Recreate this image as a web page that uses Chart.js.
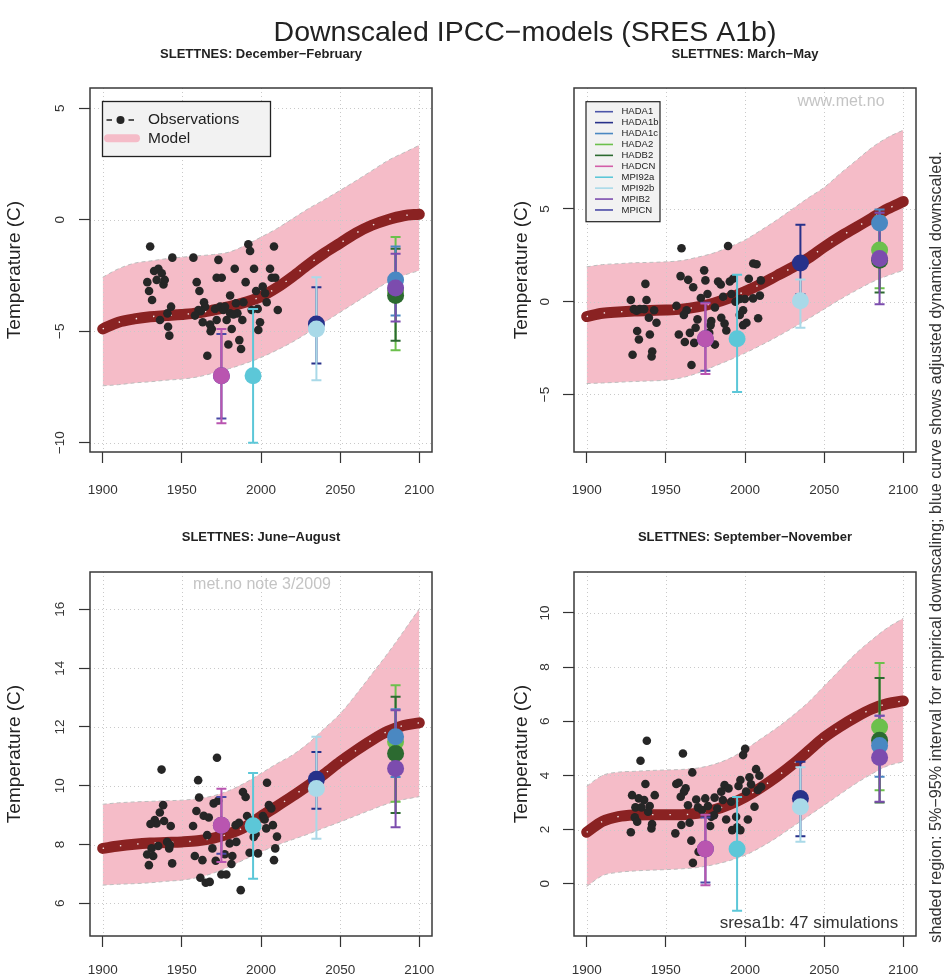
<!DOCTYPE html>
<html><head><meta charset="utf-8">
<script src="https://cdn.jsdelivr.net/npm/chart.js@4.4.1/dist/chart.umd.min.js"></script>
<style>
html,body{margin:0;padding:0;background:#fff;}
#wrap{position:relative;width:945px;height:980px;overflow:hidden;background:#fff;}
canvas{position:absolute;left:0;top:0;}
</style></head><body>
<div id="wrap">
<canvas id="c1" width="945" height="980"></canvas>
<canvas id="c2" width="945" height="980"></canvas>
<canvas id="c3" width="945" height="980"></canvas>
<canvas id="c4" width="945" height="980"></canvas>
</div>
<script>
const FONT = "'Liberation Sans', Arial, Helvetica, sans-serif";

// ---------- shared data ----------
const years = [1900,1910,1920,1930,1940,1950,1960,1970,1980,1990,2000,2010,2020,2030,2040,2050,2060,2070,2080,2090,2100];
const xTicks = [1900,1950,2000,2050,2100];
const modelNames = ['HADA1','HADA1b','HADA1c','HADA2','HADB2','HADCN','MPI92a','MPI92b','MPIB2','MPICN'];
const modelYears = [1975,1975,1995,2035,2035,2085,2085,2085,2085];
const modelKeys = ['MPICN','HADCN','MPI92a','HADA1b','MPI92b','HADA2','HADB2','HADA1c','MPIB2'];

// ---------- DJF ----------
const djfTicks = [-10,-5,0,5];
const djfCurve = [-4.9,-4.6,-4.45,-4.35,-4.3,-4.25,-4.18,-4.05,-3.9,-3.7,-3.45,-3.05,-2.55,-2.0,-1.5,-1.05,-0.6,-0.25,0.0,0.18,0.25];
const djfHi = [-2.58,-2.2,-1.95,-1.85,-1.75,-1.68,-1.62,-1.56,-1.45,-1.15,-0.78,-0.4,0.05,0.5,0.9,1.32,1.75,2.2,2.65,3.0,3.34];
const djfLo = [-7.45,-7.4,-7.32,-7.27,-7.2,-7.15,-7.05,-6.88,-6.68,-6.45,-6.18,-5.85,-5.48,-5.05,-4.6,-4.15,-3.7,-3.25,-2.8,-2.5,-2.28];
const djfObsYears = [1930,1944,1957.3,1973.1,1992,1993.1,2008.2,1932.5,1935.2,1937.3,1928.2,1934.1,1938.4,1939.2,1929.3,1931.2,1943.2,1936.2,1941.3,1942.1,1959.4,1961.1,1972,1975.2,1983.4,1990.3,1995.6,2005.7,2006.8,2009,1996.9,2001.1,2002.6,2003.6,1980.5,1964,1964.7,1960.5,1961.9,1958.3,1963.2,1967.8,1968.9,1968.2,1971,1974.1,1976.2,1978.3,1980.5,1984.2,1985.1,1988.9,1988.2,1981.5,1986.3,1987.4,1979.4,1966.1,1994.1,1997.9,1999.4,1998.3,2010.6,1977.3,1982.6,1972,1940.9];
const djfObsTemps = [-1.2,-1.7,-1.7,-1.8,-1.1,-1.4,-1.2,-2.3,-2.2,-2.4,-2.8,-2.7,-2.9,-2.7,-3.2,-3.6,-3.9,-4.5,-4.8,-5.2,-2.8,-3.2,-2.6,-2.6,-2.2,-2.8,-2.2,-2.2,-2.6,-2.6,-3.2,-3.0,-3.3,-3.7,-3.4,-3.7,-3.9,-4.05,-4.1,-4.3,-4.6,-4.7,-4.9,-5.0,-4.0,-3.9,-4.05,-4.5,-4.2,-3.75,-4.2,-3.7,-4.5,-4.9,-5.4,-5.8,-5.6,-6.1,-4.05,-4.0,-4.6,-4.95,-4.05,-3.9,-4.25,-4.5,-4.2];
const djfModelVal = [-7.0,-7.0,-7.0,-4.68,-4.9,-3.2,-3.4,-2.7,-3.06];
const djfModelLo = [-8.92,-9.13,-10.0,-6.45,-7.2,-5.85,-5.43,-4.3,-4.56];
const djfModelHi = [-5.13,-4.9,-4.0,-3.03,-2.58,-0.78,-1.3,-1.2,-1.53];

// ---------- MAM ----------
const mamTicks = [-5,0,5];
const mamCurve = [-0.8,-0.62,-0.55,-0.5,-0.47,-0.45,-0.4,-0.28,-0.08,0.2,0.55,0.95,1.4,1.85,2.35,2.95,3.5,4.0,4.5,5.0,5.4];
const mamHi = [1.88,2.0,2.05,2.1,2.12,2.15,2.22,2.4,2.62,2.95,3.33,3.85,4.4,5.0,5.6,6.16,6.9,7.6,8.3,8.85,9.25];
const mamLo = [-4.41,-4.38,-4.34,-4.3,-4.27,-4.23,-4.1,-3.85,-3.5,-3.15,-2.77,-2.35,-1.9,-1.42,-0.92,-0.4,0.12,0.6,1.05,1.4,1.69];
const mamObsYears = [1959.9,1989.3,2005.2,2007.3,1937.1,1927.9,1937.8,1929.8,1931.5,1933.6,1936.3,1942.6,1939.3,1944.1,1931.9,1939.9,1933,1929,1941.4,1941,1959.3,1964.1,1967.3,1974.2,1975,1983,1984.7,1990.4,1992.5,2002.4,2010,1956.7,1963.1,1961.4,1970,1972.1,1976.3,1981,1986.2,1991.4,1996.7,1999.9,2005.1,2009.4,1998.8,1996.7,2000.9,2008.3,1978.7,1978.3,1985,1987.1,1988.2,1968.8,1965.2,1958.2,1962,1967.9,1977.4,1981,1966.2,1998.8,1994];
const mamObsTemps = [2.88,3.0,2.06,2.02,0.96,0.09,0.09,-0.4,-0.49,-0.4,-0.4,-0.46,-0.86,-1.13,-1.58,-1.77,-2.04,-2.86,-2.68,-2.95,1.38,1.18,0.78,1.69,1.15,1.09,0.93,1.09,1.24,1.24,1.15,-0.22,-0.46,-0.71,-0.95,0.2,0.42,-0.31,0.27,0.42,0.15,0.15,0.18,0.33,-0.46,-0.71,-1.13,-0.89,-1.04,-1.26,-0.86,-1.18,-1.55,-1.4,-1.68,-1.77,-2.17,-2.22,-1.68,-2.31,-3.41,-1.26,0.0];
const mamModelVal = [-2.0,-2.0,-2.0,2.09,0.05,2.79,2.24,4.24,2.33];
const mamModelLo = [-3.72,-3.9,-4.86,0.4,-1.4,0.73,0.5,2.0,-0.13];
const mamModelHi = [-0.05,-0.1,1.46,4.15,1.2,4.6,4.5,4.97,4.8];

// ---------- JJA ----------
const jjaTicks = [6,8,10,12,14,16];
const jjaCurve = [7.87,7.95,8.01,8.05,8.07,8.09,8.13,8.22,8.37,8.6,8.96,9.3,9.65,10.02,10.4,10.82,11.2,11.55,11.85,12.05,12.14];
const jjaHi = [9.37,9.42,9.45,9.47,9.49,9.51,9.56,9.66,9.84,10.1,10.42,10.75,11.05,11.45,11.95,12.45,13.1,13.8,14.5,15.25,16.02];
const jjaLo = [6.62,6.65,6.67,6.7,6.75,6.79,6.88,7.03,7.25,7.5,7.75,7.98,8.17,8.36,8.57,8.77,8.98,9.19,9.39,9.53,9.63];
const jjaObsYears = [1972.2,1937.2,1960.3,1960.9,1938.2,1936.1,1959.2,1932.9,1934,1930.2,1938.8,1943,1957.1,1963.8,1967,1970.1,1972.9,1988.6,1990.3,2003.8,2005,2006.5,2001.2,2002.3,2007.5,2003.3,2010.1,2009,2008.2,1986.1,1984,1991.2,1966,1980.2,1984.4,1969.3,1958.2,1963,1971.4,1977.1,1981.9,1981.3,1992.8,1998.1,1995.4,1996.6,1975,1978.1,1961.7,1965.1,1967.6,1987.2,1928.1,1931.9,1929.2,1930.9,1935.1,1942,1940.7,1943.9,1942.4];
const jjaObsTemps = [10.95,10.55,10.19,9.6,9.34,9.09,9.14,8.83,8.72,8.7,8.8,8.63,8.63,8.98,8.92,9.4,9.49,9.79,9.62,10.1,9.34,9.23,8.97,8.85,8.66,8.55,8.27,7.87,7.47,8.74,8.66,8.97,8.32,8.04,8.09,7.87,7.61,7.47,7.45,7.67,7.61,7.34,7.72,7.7,8.26,8.36,6.98,6.98,6.87,6.7,6.73,6.45,7.66,7.61,7.3,7.87,7.95,7.87,8.09,7.36,7.98];
const jjaModelVal = [8.66,8.66,8.64,10.22,9.91,11.5,11.1,11.67,10.59];
const jjaModelLo = [7.69,7.41,6.84,9.22,8.2,9.46,9.07,10.3,8.59];
const jjaModelHi = [9.62,9.9,10.43,11.15,11.67,13.42,13.03,12.6,12.57];

// ---------- SON ----------
const sonTicks = [0,2,4,6,8,10];
const sonCurve = [1.9,2.3,2.48,2.54,2.55,2.55,2.55,2.6,2.72,2.92,3.2,3.55,3.95,4.4,4.9,5.4,5.8,6.15,6.45,6.65,6.75];
const sonHi = [3.6,4.0,4.12,4.15,4.18,4.2,4.22,4.27,4.4,4.62,4.95,5.35,5.75,6.2,6.7,7.3,7.9,8.5,9.0,9.45,9.8];
const sonLo = [-0.1,0.3,0.42,0.47,0.5,0.52,0.55,0.6,0.7,0.85,1.05,1.35,1.7,2.1,2.5,2.9,3.3,3.7,4.05,4.35,4.5];
const sonObsYears = [1938,1960.8,1934,2000.1,1998.8,1966.7,2007,2009.1,1937.1,1956.6,1958.1,1962.5,1961.5,1943,1928.7,1932.9,1936.3,1959.4,1964,1969.2,1974.9,1980.8,1986,1987.1,1989.6,1985,1991.3,1995.9,1997.1,2002.8,2000.7,2003.8,2008.1,2010.2,1930.8,1934.6,1939.8,1938.8,1930.4,1931.9,1927.9,1941.3,1940.9,1970.3,1972.8,1976.6,1978.7,1980.4,1978,1982.5,1988.1,1994.4,1991.9,1995,1997.1,2001.8,2006,1959.8,1965,1956,1966.1,1970.7,1967.1];
const sonObsTemps = [5.28,4.81,4.54,4.98,4.75,4.11,4.23,3.99,3.68,3.68,3.73,3.52,3.4,3.27,3.27,3.15,3.09,3.21,2.9,3.11,3.15,3.18,3.09,3.64,3.52,3.4,3.03,3.61,3.83,3.93,3.4,3.67,3.46,3.58,2.82,2.82,2.87,2.66,2.45,2.29,1.9,2.2,2.04,2.82,2.72,2.87,2.47,2.53,2.13,2.78,2.37,2.47,1.98,2.08,1.98,2.37,2.84,2.17,2.25,1.86,1.59,1.18,0.77];
const sonModelVal = [1.28,1.28,1.28,3.15,2.84,5.79,5.3,5.1,4.66];
const sonModelLo = [0.05,-0.06,-1.0,1.75,1.55,3.45,3.0,3.95,3.03];
const sonModelHi = [2.45,2.55,3.2,4.5,4.3,8.15,7.6,6.2,6.2];

// ---------- styles ----------
const modelColors = {HADA1:'#4b55a8',HADA1b:'#27318a',HADA1c:'#4a88c2',HADA2:'#6cc04c',HADB2:'#2c6a30',HADCN:'#b955b0',MPI92a:'#5cc7d8',MPI92b:'#a9d9e8',MPIB2:'#7c4cae',MPICN:'#4a4aa6'};
const legendColors = {HADA1:'#4b55a8',HADA1b:'#27318a',HADA1c:'#4a88c2',HADA2:'#6cc04c',HADB2:'#2c6a30',HADCN:'#d35ea8',MPI92a:'#5cc7d8',MPI92b:'#a9d9e8',MPIB2:'#7c4cae',MPICN:'#4a4aa6'};

const panels = [
  {id:'c1', area:[90,88,432,452], yRange:[-10.42,5.91], yTicks:djfTicks, curve:djfCurve, hi:djfHi, lo:djfLo, oy:djfObsYears, ot:djfObsTemps, mv:djfModelVal, ml:djfModelLo, mh:djfModelHi,
   sub:'SLETTNES: December\u2212February', subY:54, yTitleX:15, yLabOff:30, xPad:19, kind:'legendObs', main:true},
  {id:'c2', area:[574,88,916,452], yRange:[-8.1,11.52], yTicks:mamTicks, curve:mamCurve, hi:mamHi, lo:mamLo, oy:mamObsYears, ot:mamObsTemps, mv:mamModelVal, ml:mamModelLo, mh:mamModelHi,
   sub:'SLETTNES: March\u2212May', subY:54, yTitleX:522, yLabOff:29, xPad:19, kind:'legendModels'},
  {id:'c3', area:[90,572,432,936], yRange:[4.89,17.27], yTicks:jjaTicks, curve:jjaCurve, hi:jjaHi, lo:jjaLo, oy:jjaObsYears, ot:jjaObsTemps, mv:jjaModelVal, ml:jjaModelLo, mh:jjaModelHi,
   sub:'SLETTNES: June\u2212August', subY:537, yTitleX:15, yLabOff:30, xPad:15, kind:'note'},
  {id:'c4', area:[574,572,916,936], yRange:[-1.93,11.51], yTicks:sonTicks, curve:sonCurve, hi:sonHi, lo:sonLo, oy:sonObsYears, ot:sonObsTemps, mv:sonModelVal, ml:sonModelLo, mh:sonModelHi,
   sub:'SLETTNES: September\u2212November', subY:537, yTitleX:522, yLabOff:29, xPad:15, kind:'sims'}
];

function fmt(v){ return v < 0 ? '\u2212' + Math.abs(v) : String(v); }

function drawGrid(chart){
  const ctx = chart.ctx, a = chart.chartArea, xs = chart.scales.x, ys = chart.scales.y;
  ctx.save();
  ctx.strokeStyle = '#c9c9c9'; ctx.lineWidth = 1; ctx.setLineDash([1,3]);
  ctx.beginPath();
  xs.ticks.forEach(t => { const x = Math.round(xs.getPixelForValue(t.value)) + 0.5; ctx.moveTo(x, a.top); ctx.lineTo(x, a.bottom); });
  ys.ticks.forEach(t => { const y = Math.round(ys.getPixelForValue(t.value)) + 0.5; ctx.moveTo(a.left, y); ctx.lineTo(a.right, y); });
  ctx.stroke();
  ctx.restore();
}

function drawErrorBars(chart, p){
  const ctx = chart.ctx, xs = chart.scales.x, ys = chart.scales.y;
  ctx.save();
  ctx.lineWidth = 2; ctx.setLineDash([]);
  modelYears.forEach((yr, i) => {
    const x = xs.getPixelForValue(yr), y1 = ys.getPixelForValue(p.ml[i]), y2 = ys.getPixelForValue(p.mh[i]);
    ctx.strokeStyle = modelColors[modelKeys[i]];
    ctx.beginPath();
    ctx.moveTo(x, y1); ctx.lineTo(x, y2);
    ctx.moveTo(x - 5, y1); ctx.lineTo(x + 5, y1);
    ctx.moveTo(x - 5, y2); ctx.lineTo(x + 5, y2);
    ctx.stroke();
  });
  ctx.restore();
}

function drawDecor(chart, p){
  const ctx = chart.ctx, a = chart.chartArea, ys = chart.scales.y;
  const L = a.left, T = a.top, R = a.right, B = a.bottom;
  ctx.save();
  ctx.setLineDash([]);
  ctx.strokeStyle = '#3a3a3a'; ctx.lineWidth = 1.5;
  ctx.strokeRect(L, T, R - L, B - T);
  ctx.fillStyle = '#333'; ctx.font = '13.5px ' + FONT; ctx.textAlign = 'center'; ctx.textBaseline = 'middle';
  ys.ticks.forEach(t => {
    const y = ys.getPixelForValue(t.value);
    ctx.save(); ctx.translate(L - p.yLabOff, y); ctx.rotate(-Math.PI/2); ctx.fillText(fmt(t.value), 0, 0); ctx.restore();
  });
  ctx.save(); ctx.translate(p.yTitleX, (T + B) / 2); ctx.rotate(-Math.PI/2);
  ctx.font = '19px ' + FONT; ctx.fillStyle = '#222'; ctx.fillText('Temperature (C)', 0, 0); ctx.restore();
  ctx.font = 'bold 13px ' + FONT; ctx.fillStyle = '#222';
  ctx.fillText(p.sub, (L + R) / 2, p.subY);

  if (p.kind === 'legendObs') {
    const x0 = L + 12.5, y0 = T + 13.5;
    ctx.fillStyle = '#f2f2f2'; ctx.fillRect(x0, y0, 168, 55);
    ctx.strokeStyle = '#222'; ctx.lineWidth = 1.3; ctx.strokeRect(x0, y0, 168, 55);
    const y1 = T + 32, y2 = T + 50.3;
    ctx.strokeStyle = '#222'; ctx.lineWidth = 1.5;
    ctx.beginPath(); ctx.moveTo(L + 16.5, y1); ctx.lineTo(L + 22, y1); ctx.moveTo(L + 38.5, y1); ctx.lineTo(L + 44, y1); ctx.stroke();
    ctx.fillStyle = '#262626'; ctx.beginPath(); ctx.arc(L + 30.5, y1, 4, 0, Math.PI * 2); ctx.fill();
    ctx.strokeStyle = '#f5bcc8'; ctx.lineWidth = 8; ctx.lineCap = 'round';
    ctx.beginPath(); ctx.moveTo(L + 18, y2); ctx.lineTo(L + 46, y2); ctx.stroke();
    ctx.lineCap = 'butt';
    ctx.fillStyle = '#222'; ctx.font = '15.5px ' + FONT; ctx.textAlign = 'left';
    ctx.fillText('Observations', L + 58, y1);
    ctx.fillText('Model', L + 58, y2);
  }
  if (p.kind === 'legendModels') {
    const x0 = L + 12, y0 = T + 13.7;
    ctx.fillStyle = '#f2f2f2'; ctx.fillRect(x0, y0, 74, 120);
    ctx.strokeStyle = '#222'; ctx.lineWidth = 1.2; ctx.strokeRect(x0, y0, 74, 120);
    ctx.font = '9.5px ' + FONT; ctx.textAlign = 'left';
    modelNames.forEach((m, i) => {
      const y = T + 23.7 + i * 10.92;
      ctx.strokeStyle = legendColors[m]; ctx.lineWidth = 1.6;
      ctx.beginPath(); ctx.moveTo(L + 21, y); ctx.lineTo(L + 39, y); ctx.stroke();
      ctx.fillStyle = '#222'; ctx.fillText(m, L + 47.5, y);
    });
    ctx.textAlign = 'center'; ctx.font = '16px ' + FONT; ctx.fillStyle = '#c4c4c4';
    ctx.fillText('www.met.no', L + 267, T + 14);
  }
  if (p.kind === 'note') {
    ctx.textAlign = 'center'; ctx.font = '16px ' + FONT; ctx.fillStyle = '#c4c4c4';
    ctx.fillText('met.no note 3/2009', L + 172, T + 13);
  }
  if (p.kind === 'sims') {
    ctx.textAlign = 'center'; ctx.font = '17px ' + FONT; ctx.fillStyle = '#333';
    ctx.fillText('sresa1b: 47 simulations', L + 235, B - 13);
  }
  if (p.main) {
    ctx.textAlign = 'center'; ctx.fillStyle = '#222'; ctx.font = '28.5px ' + FONT;
    ctx.fillText('Downscaled IPCC\u2212models (SRES A1b)', 525, 33);
    ctx.save(); ctx.translate(937, 547); ctx.rotate(-Math.PI/2);
    ctx.font = '16.2px ' + FONT; ctx.fillStyle = '#333';
    ctx.fillText('shaded region: 5%\u221295% interval for empirical downscaling; blue curve shows adjusted dynamical downscaled.', 0, 0);
    ctx.restore();
  }
  ctx.restore();
}

function makeChart(p){
  const [L, T, R, B] = p.area;
  const YW = 40, XH = 50;
  const n = Math.min(p.oy.length, p.ot.length);
  const obs = [];
  for (let i = 0; i < n; i++) obs.push({x: p.oy[i], y: p.ot[i]});
  const curve = years.map((x, i) => ({x, y: p.curve[i]}));
  const hi = years.map((x, i) => ({x, y: p.hi[i]}));
  const lo = years.map((x, i) => ({x, y: p.lo[i]}));
  const models = modelYears.map((x, i) => ({x, y: p.mv[i]}));
  const mCols = modelKeys.map(k => modelColors[k]);
  const plugin = {
    id: 'rstyle_' + p.id,
    afterDatasetDraw(chart, args){
      const lab = chart.data.datasets[args.index].label;
      if (lab === 'bandLo') drawGrid(chart);
      if (lab === 'obs') drawErrorBars(chart, p);
    },
    afterDraw(chart){ drawDecor(chart, p); }
  };
  const axisCommon = {
    grid: {drawOnChartArea: false, drawTicks: true, tickLength: 11, tickColor: '#333', tickWidth: 1.2, color: '#333'},
    border: {display: false}
  };
  return new Chart(document.getElementById(p.id), {
    type: 'scatter',
    data: {datasets: [
      {label: 'models', data: models, backgroundColor: mCols, pointRadius: 8.5, pointHoverRadius: 8.5, borderWidth: 0, order: 1},
      {label: 'obs', data: obs, backgroundColor: '#262626', pointRadius: 4.3, pointHoverRadius: 4.3, borderWidth: 0, order: 2},
      {label: 'curveDots', data: curve, showLine: true, borderColor: 'rgba(255,255,255,0.9)', borderWidth: 1.4, borderDash: [1.4, 16], pointRadius: 0, cubicInterpolationMode: 'monotone', fill: false, order: 3},
      {label: 'curve', data: curve, showLine: true, borderColor: '#8a2222', borderWidth: 11, borderCapStyle: 'round', pointRadius: 0, cubicInterpolationMode: 'monotone', fill: false, order: 4},
      {label: 'bandLo', data: lo, showLine: true, borderColor: '#bdbdbd', borderWidth: 1, borderDash: [4, 3], pointRadius: 0, cubicInterpolationMode: 'monotone', fill: false, order: 5},
      {label: 'bandHi', data: hi, showLine: true, borderColor: '#bdbdbd', borderWidth: 1, borderDash: [4, 3], pointRadius: 0, cubicInterpolationMode: 'monotone', fill: '-1', backgroundColor: '#f5bcc8', order: 6}
    ]},
    options: {
      responsive: false, animation: false, devicePixelRatio: 1, events: [],
      layout: {padding: {left: L - YW, top: T, right: 945 - R, bottom: 980 - B - XH}},
      plugins: {legend: {display: false}, tooltip: {enabled: false}},
      scales: {
        x: Object.assign({}, axisCommon, {
          type: 'linear', position: 'bottom', min: 1892, max: 2108,
          afterBuildTicks(s){ s.ticks = xTicks.map(v => ({value: v})); },
          afterFit(s){ s.height = XH; },
          ticks: {autoSkip: false, maxRotation: 0, minRotation: 0, padding: p.xPad, color: '#333', font: {family: FONT, size: 13.5}, callback: v => String(v)}
        }),
        y: Object.assign({}, axisCommon, {
          type: 'linear', position: 'left', min: p.yRange[0], max: p.yRange[1],
          afterBuildTicks(s){ s.ticks = p.yTicks.map(v => ({value: v})); },
          afterFit(s){ s.width = YW; },
          ticks: {display: false}
        })
      }
    },
    plugins: [plugin]
  });
}

panels.forEach(makeChart);
</script>
</body></html>
